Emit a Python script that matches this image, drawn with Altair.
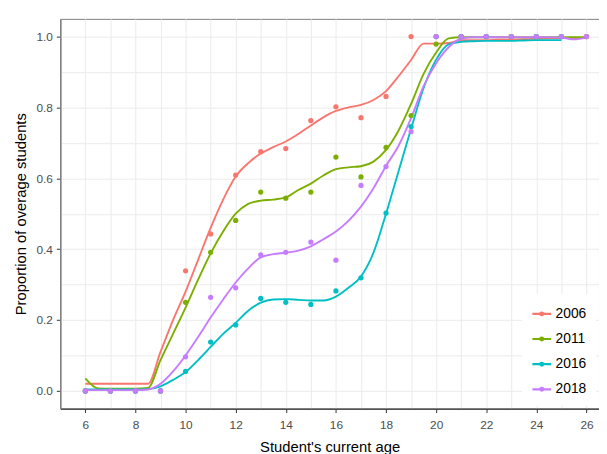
import altair as alt
import pandas as pd

years = ["2006", "2011", "2016", "2018"]
colors = ["#F8766D", "#7CAE00", "#00BFC4", "#C77CFF"]

# observed proportions by age
point_ages = [6, 7, 8, 9, 10, 11, 12, 13, 14, 15, 16, 17, 18, 19, 20, 21, 22, 23, 24, 25, 26]
pts_2006 = [0, 0, 0, 0, 0.339, 0.443, 0.609, 0.675, 0.684, 0.763, 0.802, 0.771, 0.831, 1.0, 1, 1, 1, 1, 1, 1, 1]
pts_2011 = [0, 0, 0, 0, 0.250, 0.391, 0.481, 0.561, 0.544, 0.561, 0.660, 0.604, 0.687, 0.777, 0.979, 1, 1, 1, 1, 1, 1]
pts_2016 = [0, 0, 0, 0, 0.055, 0.138, 0.186, 0.261, 0.250, 0.244, 0.282, 0.319, 0.502, 0.746, 1, 1, 1, 1, 1, 1]
pts_2018 = [0, 0, 0, 0, 0.096, 0.264, 0.291, 0.384, 0.391, 0.420, 0.369, 0.580, 0.633, 0.732, 1, 1, 1, 1, 1, 1, 1]

# smoothed curves, read at half-year steps
line_ages = [6, 6.5, 7, 7.5, 8, 8.5, 9, 9.5, 10, 10.5, 11, 11.5, 12, 12.5, 13, 13.5, 14, 14.5,
             15, 15.5, 16, 16.5, 17, 17.5, 18, 18.5, 19, 19.5, 20, 20.5, 21, 21.5, 22, 22.5,
             23, 23.5, 24, 24.5, 25, 25.5, 26]
line_2006 = [0.02, 0.02, 0.02, 0.02, 0.02, 0.02, 0.11, 0.20, 0.28, 0.37, 0.46, 0.54, 0.605, 0.643,
             0.670, 0.688, 0.704, 0.725, 0.749, 0.772, 0.790, 0.800, 0.807, 0.821, 0.846, 0.888,
             0.934, 0.980, 0.980, 0.982, 0.990, 0.990, 0.990, 0.991, 0.991, 0.993, 0.994, 0.995,
             0.996, 0.996, 0.997]
line_2011 = [0.035, 0.007, 0.006, 0.006, 0.006, 0.008, 0.087, 0.161, 0.235, 0.314, 0.388, 0.45,
             0.50, 0.528, 0.537, 0.540, 0.546, 0.567, 0.585, 0.608, 0.626, 0.631, 0.634, 0.647,
             0.680, 0.735, 0.810, 0.895, 0.955, 0.995, 0.998, 0.998, 0.998, 0.998, 0.998, 0.998,
             0.998, 0.998, 0.998, 0.998, 0.998]
line_2016 = [0.004, 0.004, 0.004, 0.004, 0.004, 0.005, 0.013, 0.031, 0.053, 0.087, 0.124, 0.161,
             0.192, 0.226, 0.249, 0.258, 0.259, 0.257, 0.255, 0.255, 0.266, 0.291, 0.323, 0.39,
             0.50, 0.62, 0.74, 0.855, 0.935, 0.978, 0.985, 0.987, 0.988, 0.988, 0.988, 0.989,
             0.990, 0.990, 0.990]
line_2018 = [0.002, 0.002, 0.002, 0.002, 0.002, 0.004, 0.02, 0.055, 0.10, 0.152, 0.207, 0.258,
             0.306, 0.346, 0.377, 0.386, 0.390, 0.396, 0.408, 0.428, 0.450, 0.480, 0.520, 0.572,
             0.635, 0.692, 0.770, 0.860, 0.925, 0.970, 0.994, 0.998, 0.998, 0.998, 0.998, 0.998,
             0.998, 0.998, 0.997, 0.992, 0.997]

pt_rows = []
for yr, vals in zip(years, [pts_2006, pts_2011, pts_2016, pts_2018]):
    for a, v in zip(point_ages, vals):
        pt_rows.append({"age": a, "prop": v, "year": yr})
pt_df = pd.DataFrame(pt_rows)

ln_rows = []
for yr, vals in zip(years, [line_2006, line_2011, line_2016, line_2018]):
    for a, v in zip(line_ages, vals):
        ln_rows.append({"age": a, "prop": v, "year": yr})
ln_df = pd.DataFrame(ln_rows)

x_enc = alt.X(
    "age:Q",
    scale=alt.Scale(domain=[5, 26.5], nice=False, zero=False),
    axis=alt.Axis(
        title="Student's current age",
        values=list(range(5, 27)),
        labelExpr="datum.value % 2 === 0 ? datum.label : ''",
        tickColor={"condition": {"test": "datum.value % 2 === 0", "value": "#333333"}, "value": "transparent"},
        labelOverlap=False,
        labelFlush=False,
        tickSize=4,
        labelPadding=7,
        titlePadding=9,
        domainColor="#333333",
        domainWidth=1.2,
    ),
)
y_enc = alt.Y(
    "prop:Q",
    scale=alt.Scale(domain=[-0.05, 1.05], nice=False, zero=False),
    axis=alt.Axis(
        title="Proportion of overage students",
        values=[0, 0.1, 0.2, 0.3, 0.4, 0.5, 0.6, 0.7, 0.8, 0.9, 1.0],
        labelExpr="round(datum.value * 10) % 2 === 0 ? format(datum.value, '.1f') : ''",
        tickColor={"condition": {"test": "round(datum.value * 10) % 2 === 0", "value": "#333333"}, "value": "transparent"},
        labelOverlap=False,
        labelFlush=False,
        tickSize=4,
        labelPadding=4,
        titlePadding=8,
        domainColor="#7f7f7f",
        domainWidth=1.5,
    ),
)

sym_path = "M-1,0H1M-0.15,0A0.15,0.15,0,1,1,0.15,0A0.15,0.15,0,1,1,-0.15,0"
color_enc = alt.Color(
    "year:N",
    scale=alt.Scale(domain=years, range=colors),
    legend=alt.Legend(
        title=None,
        orient="none",
        legendX=468,
        legendY=279,
        symbolType=sym_path,
        symbolSize=361,
        symbolStrokeWidth=2.2,
        labelFontSize=14,
        labelColor="#000000",
        labelOffset=3,
        fillColor="white",
        padding=9,
        rowPadding=7.5,
    ),
)

lines = alt.Chart(ln_df).mark_line(strokeWidth=1.9, interpolate="monotone").encode(
    x=x_enc, y=y_enc, color=color_enc
)
points = alt.Chart(pt_df).mark_circle(size=28, opacity=1).encode(
    x=x_enc, y=y_enc, color=color_enc
)

chart = alt.layer(lines, points).properties(
    width=546,
    height=395,
    padding={"left": 53, "top": 8, "right": 0, "bottom": 43},
    autosize=alt.AutoSizeParams(type="none"),
).configure(
    font="Liberation Sans",
).configure_view(
    stroke="#7f7f7f",
    strokeWidth=1,
).configure_axis(
    gridColor="#ebebeb",
    gridWidth=1,
    labelFontSize=12,
    labelColor="#4d4d4d",
    titleFontSize=15,
    titleFontWeight="normal",
    titleColor="#000000",
)

chart.save("out.html", embed_options={"renderer": "svg", "actions": False})
